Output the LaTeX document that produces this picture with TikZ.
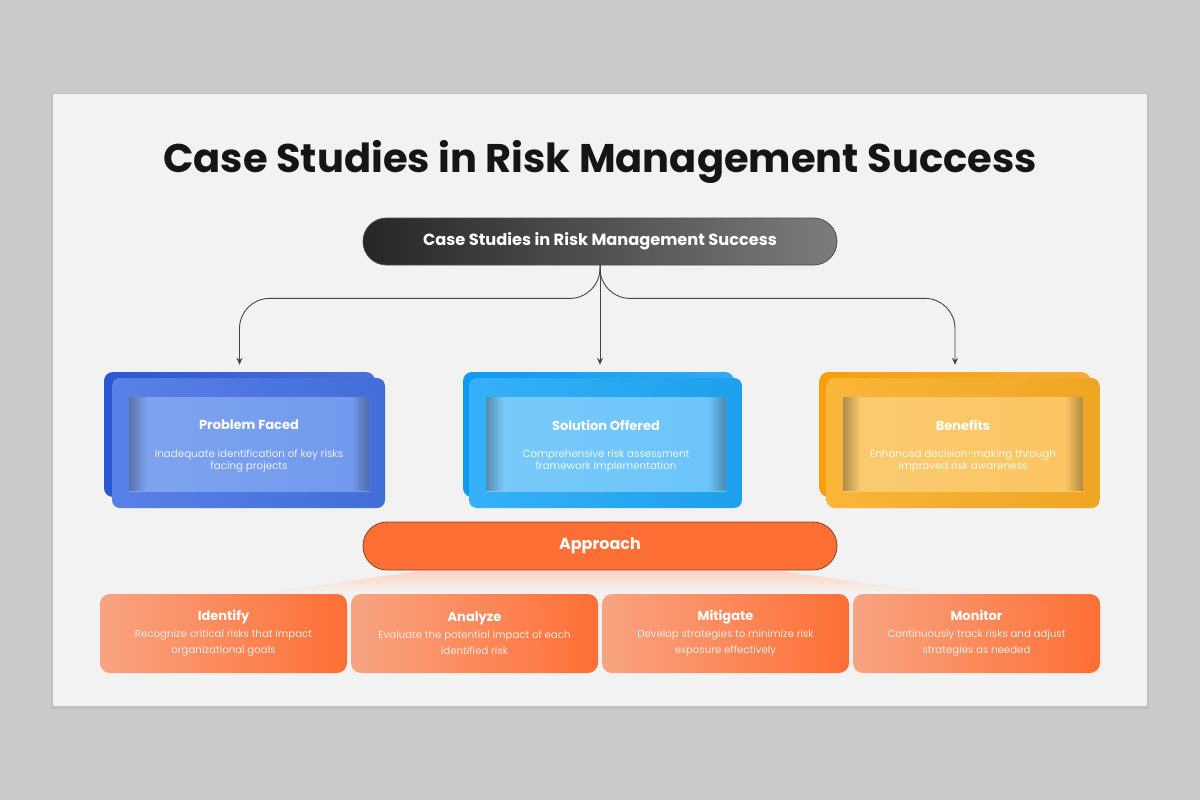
\documentclass[tikz,border=0pt]{standalone}
\usepackage{fontspec}
\setmainfont{Poppins}
\usepackage{tikz}
\usetikzlibrary{shapes.misc, positioning}
\usetikzlibrary{arrows.meta, fadings}
\definecolor{pagegray}{HTML}{CBCBCB}
\definecolor{cardbg}{HTML}{F2F2F2}
\definecolor{inkdark}{HTML}{151515}
\definecolor{linegray}{HTML}{454545}
\definecolor{hdrL}{HTML}{262626}
\definecolor{hdrR}{HTML}{7C7C7C}
\definecolor{blueB}{HTML}{2B58D2}
\definecolor{blueF}{HTML}{4673E4}
\definecolor{blueI}{HTML}{7199EE}
\definecolor{cyanB}{HTML}{0E9AF2}
\definecolor{cyanF}{HTML}{1FA8F8}
\definecolor{cyanI}{HTML}{6BC4FA}
\definecolor{goldB}{HTML}{F59F0E}
\definecolor{goldF}{HTML}{FAAE24}
\definecolor{goldI}{HTML}{FBC561}
\definecolor{apOrange}{HTML}{FE6F35}
\definecolor{apLight}{HTML}{F8A482}
\definecolor{softtext}{HTML}{FCE9E0}
\tikzfading[name=fadeR, left color=transparent!0, right color=transparent!100]
\tikzfading[name=fadeL, left color=transparent!100, right color=transparent!0]

\begin{document}
\begin{tikzpicture}[x=1pt, y=-1pt]
% Define styles
\tikzstyle{pill} = [rounded rectangle, minimum width=474pt, minimum height=47pt, inner sep=0pt, text=white]
\tikzstyle{back} = [rectangle, rounded corners=9pt, minimum width=271pt, minimum height=125pt, inner sep=0pt]
\tikzstyle{front} = [rectangle, rounded corners=8pt, minimum width=273pt, minimum height=130pt, inner sep=0pt]
\tikzstyle{panel} = [rectangle, minimum width=240pt, minimum height=94pt, inner sep=0pt]
\tikzstyle{head} = [text=white, font=\fontsize{13}{15}\selectfont\bfseries]
\tikzstyle{desc} = [text=white, text opacity=0.85, align=center, font=\fontsize{10.3}{12}\selectfont]
\tikzstyle{apbox} = [rectangle, rounded corners=10pt, minimum width=247pt, minimum height=79pt, inner sep=0pt, left color=apLight, right color=apOrange, text=white, align=center, font=\fontsize{10.2}{16.5}\selectfont]
\tikzstyle{conn} = [draw=linegray, line width=0.9pt, rounded corners=30pt, shorten >=7pt, -{Stealth[length=7pt, width=6pt]}]
% Background
\useasboundingbox (0,0) rectangle (1200,800);
\fill[pagegray] (0,0) rectangle (1200,800);
\fill[black, opacity=0.06] (51,93) rectangle (1149,709);
\fill[cardbg] (53,94) rectangle (1147,706);
% Title and header
\node[text=inkdark] (title) at (600,162) {\fontsize{40}{48}\selectfont\bfseries Case Studies in Risk Management Success};
\node[pill, left color=hdrL, right color=hdrR, draw=black!70, line width=0.8pt] (hdr) at (600,241.5) {\fontsize{16.2}{19}\selectfont\bfseries Case Studies in Risk Management Success};
% Problem card
\node[back, left color=blueB, right color=blueB!85!white] (probB) at (239.5,434.5) {};
\node[front, left color=blueF!90!white, right color=blueF!95!black] (prob) at (248.5,443) {};
\node[panel, left color=blueI!90!white, right color=blueI] (probIn) at (249,444) {};
\fill[black, opacity=0.3, path fading=fadeR] (probIn.north west) rectangle ([xshift=18pt]probIn.south west);
\fill[black, opacity=0.3, path fading=fadeL] ([xshift=-18pt]probIn.north east) rectangle (probIn.south east);
\node[head] (probT) at (249,425) {Problem Faced};
\node[desc] (probD) at (249,461) {Inadequate identification of key risks\\facing projects};
% Solution card
\node[back, left color=cyanB, right color=cyanB!85!white] (solB) at (598.5,434.5) {};
\node[front, left color=cyanF!90!white, right color=cyanF!95!black] (sol) at (605.5,443) {};
\node[panel, left color=cyanI!90!white, right color=cyanI] (solIn) at (606,444) {};
\fill[black, opacity=0.3, path fading=fadeR] (solIn.north west) rectangle ([xshift=18pt]solIn.south west);
\fill[black, opacity=0.3, path fading=fadeL] ([xshift=-18pt]solIn.north east) rectangle (solIn.south east);
\node[head] (solT) at (606,425) {Solution Offered};
\node[desc] (solD) at (606,461) {Comprehensive risk assessment\\framework implementation};
% Benefits card
\node[back, left color=goldB, right color=goldB!85!white] (benB) at (955,434.5) {};
\node[front, left color=goldF!90!white, right color=goldF!95!black] (ben) at (963,443) {};
\node[panel, left color=goldI!90!white, right color=goldI] (benIn) at (963,444) {};
\fill[black, opacity=0.3, path fading=fadeR] (benIn.north west) rectangle ([xshift=18pt]benIn.south west);
\fill[black, opacity=0.3, path fading=fadeL] ([xshift=-18pt]benIn.north east) rectangle (benIn.south east);
\node[head] (benT) at (963,425) {Benefits};
\node[desc] (benD) at (963,461) {Enhanced decision-making through\\improved risk awareness};
% Connect the nodes
\draw[conn] (hdr.south) -- ++(0,33) -| (probB.north);
\draw[conn] (hdr.south) -- (hdr.south |- solB.north);
\draw[conn] (hdr.south) -- ++(0,33) -| (benB.north);
% Approach
\shade[top color=apOrange!30, bottom color=cardbg] (420,571) -- (780,571) -- (930,592) -- (270,592) -- cycle;
\node[pill, fill=apOrange, draw=apOrange!55!black, line width=0.8pt, minimum height=48pt] (appr) at (600,546) {\fontsize{16}{19}\selectfont\bfseries Approach};
\node[apbox] (idf) at (223.5,633.5) {{\fontsize{13}{16.5}\selectfont\bfseries Identify}\\{\color{softtext}Recognize critical risks that impact}\\{\color{softtext}organizational goals}};
\node[apbox] (ana) at (474.5,633.5) {{\fontsize{13}{16.5}\selectfont\bfseries Analyze}\\{\color{softtext}Evaluate the potential impact of each}\\{\color{softtext}identified risk}};
\node[apbox] (mit) at (725.5,633.5) {{\fontsize{13}{16.5}\selectfont\bfseries Mitigate}\\{\color{softtext}Develop strategies to minimize risk}\\{\color{softtext}exposure effectively}};
\node[apbox] (mon) at (976.5,633.5) {{\fontsize{13}{16.5}\selectfont\bfseries Monitor}\\{\color{softtext}Continuously track risks and adjust}\\{\color{softtext}strategies as needed}};
\end{tikzpicture}
\end{document}
